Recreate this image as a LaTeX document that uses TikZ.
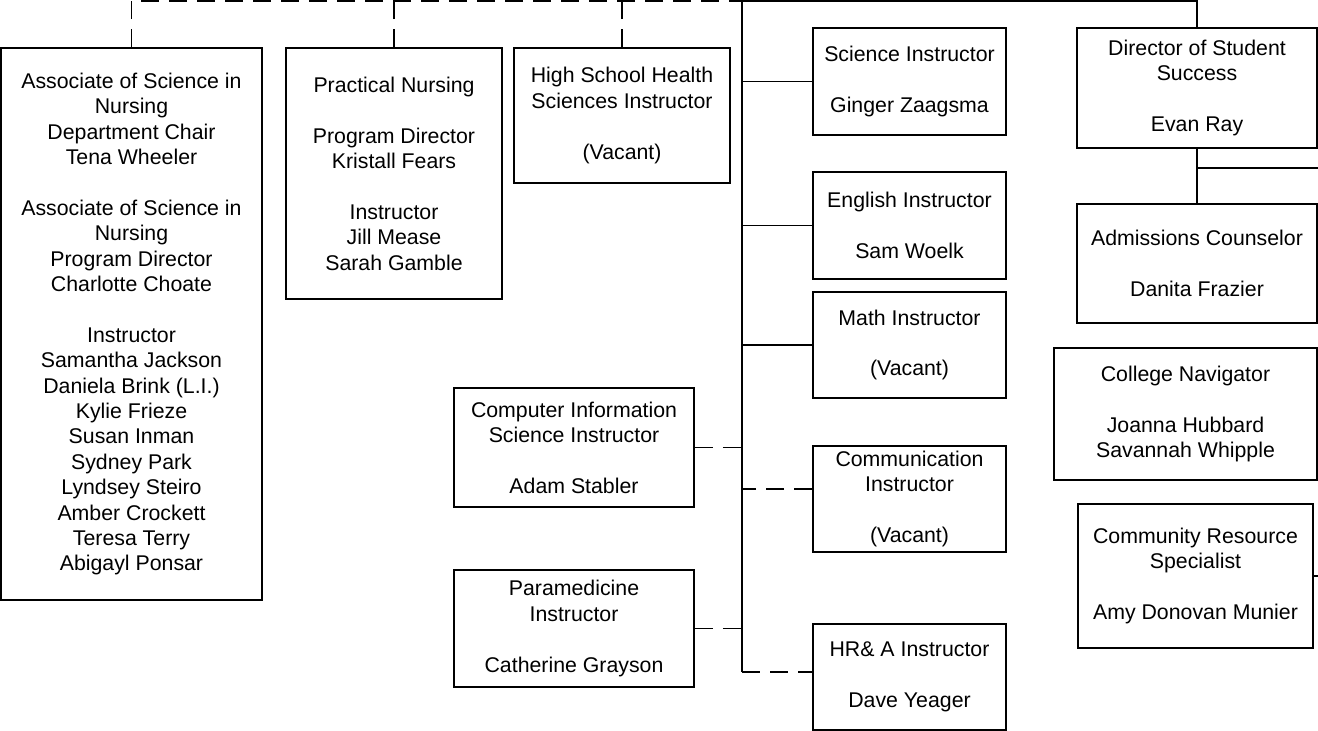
\documentclass[tikz,border=0pt]{standalone}
\usepackage{fontspec}
\setmainfont{Liberation Sans}
\begin{document}
\begin{tikzpicture}[x=1pt,y=-1pt,
    box/.style={draw,line width=1.8pt,inner sep=0pt,align=center,
      font=\fontsize{21.3pt}{25.4pt}\selectfont},
    link/.style={line width=1.8pt},
    dashlink/.style={link,dash pattern=on 18pt off 10pt}]
  \useasboundingbox (0,0) rectangle (1318,731);
  \node[box,minimum width=261pt,minimum height=552pt] (asn) at (131.5,324)
    {Associate of Science in\\ Nursing\\ Department Chair\\ Tena Wheeler\\[25.4pt]
     Associate of Science in\\ Nursing\\ Program Director\\ Charlotte Choate\\[25.4pt]
     Instructor\\ Samantha Jackson\\ Daniela Brink (L.I.)\\ Kylie Frieze\\ Susan Inman\\
     Sydney Park\\ Lyndsey Steiro\\ Amber Crockett\\ Teresa Terry\\ Abigayl Ponsar};
  \node[box,minimum width=216pt,minimum height=251pt] (pn) at (394,173.5)
    {Practical Nursing\\[25.4pt] Program Director\\ Kristall Fears\\[25.4pt]
     Instructor\\ Jill Mease\\ Sarah Gamble};
  \node[box,minimum width=216pt,minimum height=135pt] (hs) at (622,115.5)
    {High School Health\\ Sciences Instructor\\[25.4pt] (Vacant)};
  \node[box,minimum width=193pt,minimum height=107pt] (sci) at (909.5,81.5)
    {Science Instructor\\[25.4pt] Ginger Zaagsma};
  \node[box,minimum width=193pt,minimum height=107pt] (eng) at (909.5,225.5)
    {English Instructor\\[25.4pt] Sam Woelk};
  \node[box,minimum width=193pt,minimum height=106pt] (math) at (909.5,345)
    {Math Instructor\\[25.4pt] (Vacant)};
  \node[box,minimum width=193pt,minimum height=106pt] (comm) at (909.5,499)
    {Communication\\ Instructor\\[25.4pt] (Vacant)};
  \node[box,minimum width=193pt,minimum height=106pt] (hra) at (909.5,677)
    {HR\& A Instructor\\[25.4pt] Dave Yeager};
  \node[box,minimum width=240pt,minimum height=119pt] (cis) at (574,447.5)
    {Computer Information\\ Science Instructor\\[25.4pt] Adam Stabler};
  \node[box,minimum width=240pt,minimum height=117pt] (para) at (574,628.5)
    {Paramedicine\\ Instructor\\[25.4pt] Catherine Grayson};
  \node[box,minimum width=240pt,minimum height=120pt] (dss) at (1197,88)
    {Director of Student\\ Success\\[25.4pt] Evan Ray};
  \node[box,minimum width=240pt,minimum height=119pt] (adm) at (1197,263.5)
    {Admissions Counselor\\[25.4pt] Danita Frazier};
  \node[box,minimum width=263pt,minimum height=132pt] (nav) at (1185.5,414)
    {College Navigator\\[25.4pt] Joanna Hubbard\\ Savannah Whipple};
  \node[box,minimum width=235pt,minimum height=144pt] (crs) at (1195.5,576)
    {Community Resource\\ Specialist\\[25.4pt] Amy Donovan Munier};
  \coordinate (top) at (742,1);
  \coordinate (trunkend) at (742,672);
  \coordinate (rA) at (1318,168);
  \coordinate (rB) at (1318,576);
  \begin{scope}[link]
    \draw (top) -- (trunkend);
    \draw (top) -| (dss.north);
    \draw (sci.west) -- (sci.west -| top);
    \draw (eng.west) -- (eng.west -| top);
    \draw (math.west) -- (math.west -| top);
    \draw (dss.south) -- (adm.north);
    \draw (dss.south |- rA) -- (rA);
    \draw (crs.east) -- (rB);
  \end{scope}
  \begin{scope}[dashlink]
    \draw (asn.north) |- (top);
    \draw (pn.north) -- (pn.north |- top);
    \draw (hs.north) -- (hs.north |- top);
    \draw (cis.east) -- (cis.east -| top);
    \draw (para.east) -- (para.east -| top);
    \draw ([yshift=10pt]comm.west) -- ([yshift=10pt]comm.west -| top);
    \draw (trunkend) -- (trunkend -| hra.west);
  \end{scope}
\end{tikzpicture}
\end{document}
